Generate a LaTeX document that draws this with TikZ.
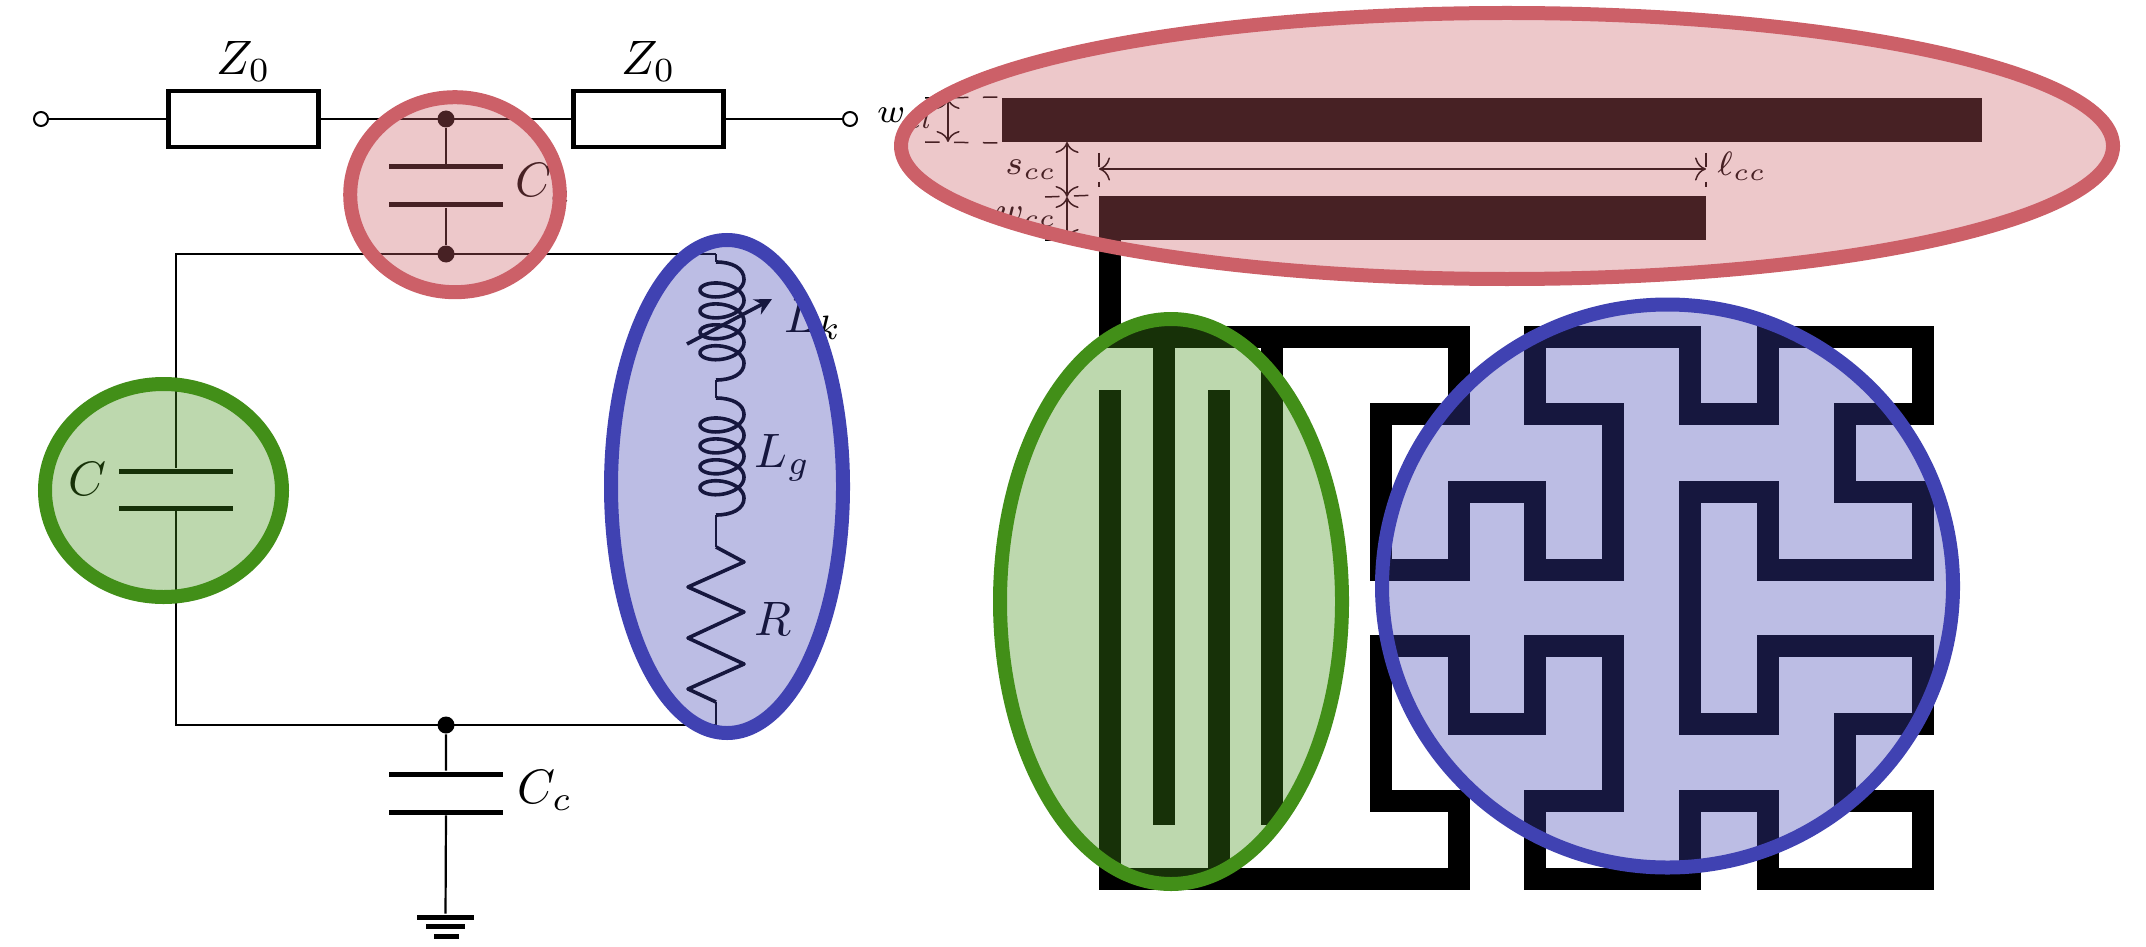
\documentclass[tikz,border=0pt]{standalone}
\usetikzlibrary{shapes.geometric,arrows.meta}
\definecolor{mycoupling}{RGB}{204,96,104}
\definecolor{myresonator}{RGB}{66,143,24}
\definecolor{myinductor}{RGB}{64,66,178}
\newcommand{\unitpx}{0.207pt}
\tikzset{
    wire/.style={line width=2.2*\unitpx},
    termin/.style={draw, circle, fill=white, line width=2*\unitpx, minimum size=14*\unitpx, inner sep=0pt},
    joint/.style={circle, fill=black, minimum size=17*\unitpx, inner sep=0pt},
    load/.style={draw, rectangle, line width=4.5*\unitpx, minimum width=150*\unitpx, minimum height=56*\unitpx, inner sep=0pt},
    plate/.style={rectangle, fill=black, minimum width=114*\unitpx, minimum height=5*\unitpx, inner sep=0pt},
    earth/.style={rectangle, fill=black, minimum height=5*\unitpx, inner sep=0pt},
    coil/.style={line width=3.6*\unitpx, line join=round},
    bar/.style={rectangle, fill=black, minimum height=44*\unitpx, inner sep=0pt},
    trace/.style={line width=22*\unitpx},
    dim/.style={line width=1.5*\unitpx},
    sym/.style={inner sep=0pt},
    tiny sym/.style={sym, font=\scriptsize},
    blob/.style={ellipse, draw=#1, fill=#1, fill opacity=.35, line width=14*\unitpx, inner sep=0pt}
}
\begin{document}
\begin{tikzpicture}[x=\unitpx, y=-\unitpx, declare function={coilx(\t)=722+22*cos(\t); coily(\t,\s)=\s+3.33*rad(\t)+11.75*sin(\t);}]
    \useasboundingbox (0,0) rectangle (2146,946);

    \node[termin] (in) at (41,119) {};
    \node[load, label={[label distance=-10*\unitpx]above:{$Z_0$}}] (zleft) at (243.5,119) {};
    \node[load, label={[label distance=-10*\unitpx]above:{$Z_0$}}] (zright) at (648.5,119) {};
    \node[termin] (out) at (850,119) {};
    \node[joint] (jtop) at (446,119) {};
    \node[joint] (jmid) at (446,254) {};
    \node[joint] (jlow) at (446,725) {};
    \coordinate (cornertl) at (176,254);
    \coordinate (cornertr) at (716,254);
    \coordinate (cornerbl) at (176,725);
    \coordinate (cornerbr) at (716,725);

    \node[plate] (ccplateA) at (446,167) {};
    \node[plate] (ccplateB) at (446,205) {};
    \node[plate] (cplateA) at (176,471) {};
    \node[plate] (cplateB) at (176,508) {};
    \node[plate] (cgplateA) at (446,774) {};
    \node[plate] (cgplateB) at (446,812) {};
    \node[earth, minimum width=57*\unitpx] (gndA) at (445.5,917) {};
    \node[earth, minimum width=39*\unitpx] (gndB) at (445.5,926) {};
    \node[earth, minimum width=25*\unitpx] (gndC) at (446.5,936) {};

    \draw[wire] (in) -- (zleft) (zleft) -- (zright) (zright) -- (out);
    \draw[wire] (jtop) -- (ccplateA) (ccplateB) -- (jmid);
    \draw[wire] (cornertr) -- (cornertl) -- (cplateA) (cplateB) -- (cornerbl) -- (cornerbr);
    \draw[wire] (jlow) -- (cgplateA) (cgplateB) -- (gndA);

    \coordinate (coilAtop) at (716,262);
    \coordinate (coilAend) at (716,380);
    \coordinate (coilBtop) at (716,398);
    \coordinate (coilBend) at (716,515);
    \coordinate (rtop) at (716,547);
    \coordinate (rend) at (716,702);
    \coordinate (tunefrom) at (687,344);
    \coordinate (tuneto) at (772,299);

    \draw[wire] (cornertr) -- (coilAtop) (coilAend) -- (coilBtop) (coilBend) -- (rtop) (rend) -- (cornerbr);
    \draw[coil] (coilAtop) .. controls (732,262) and (744,268) .. (744,279.5)
        -- plot[domain=0:1440, samples=161] ({coilx(\x)},{coily(\x,279.5)})
        .. controls (744,374) and (732,380) .. (coilAend);
    \draw[coil] (coilBtop) .. controls (732,398) and (744,404) .. (744,414.5)
        -- plot[domain=0:1440, samples=161] ({coilx(\x)},{coily(\x,414.5)})
        .. controls (744,509) and (732,515) .. (coilBend);
    \draw[coil] (rtop) -- (744,562) -- (688,587) -- (744,612) -- (688,638) -- (744,664) -- (688,689) -- (rend);
    \draw[coil, -{Stealth[length=17*\unitpx, width=17*\unitpx]}] (tunefrom) -- (tuneto);

    \node[sym, anchor=base west] (labelcc) at (515,197) {$C_c$};
    \node[sym, anchor=base west] (labelcg) at (517,803) {$C_c$};
    \node[sym, anchor=base east] (labelc) at (107,495) {$C$};
    \node[sym, anchor=base west] (labellk) at (784,332) {$L_k$};
    \node[sym, anchor=base west] (labellg) at (754,467) {$L_g$};
    \node[sym, anchor=base west] (labelr) at (754,635) {$R$};

    \node[bar, minimum width=980*\unitpx] (linetop) at (1492,120) {};
    \node[bar, minimum width=607*\unitpx] (linelow) at (1402.5,218) {};

    \draw[trace] (1110,238) -- (1110,337) -- (1458.5,337) -- (1458.5,414) -- (1380.5,414) -- (1380.5,569.5)
        -- (1458.5,569.5) -- (1458.5,491.5) -- (1535,491.5) -- (1535,569.5) -- (1613,569.5) -- (1613,414)
        -- (1535,414) -- (1535,337) -- (1690,337) -- (1690,414) -- (1768,414) -- (1768,337) -- (1922.5,337)
        -- (1922.5,414) -- (1844.5,414) -- (1844.5,491.5) -- (1922.5,491.5) -- (1922.5,569.5) -- (1768,569.5)
        -- (1768,491.5) -- (1690,491.5) -- (1690,723.5) -- (1768,723.5) -- (1768,646) -- (1922.5,646)
        -- (1922.5,723.5) -- (1844.5,723.5) -- (1844.5,801) -- (1922.5,801) -- (1922.5,878.5) -- (1768,878.5)
        -- (1768,801) -- (1690,801) -- (1690,878.5) -- (1535,878.5) -- (1535,801) -- (1613,801) -- (1613,646)
        -- (1535,646) -- (1535,723.5) -- (1458.5,723.5) -- (1458.5,646) -- (1380.5,646) -- (1380.5,801)
        -- (1458.5,801) -- (1458.5,878.5) -- (1110,878.5) -- (1110,390);
    \draw[trace] (1164,337) -- (1164,825) (1272,337) -- (1272,825) (1218.5,878.5) -- (1218.5,390);

    \coordinate (wlA) at (925,98);
    \coordinate (wlB) at (925,142);
    \coordinate (wlAarrow) at (948,98);
    \coordinate (wlBarrow) at (948,142);
    \coordinate (sccA) at (1067,142);
    \coordinate (sccB) at (1067,197);
    \coordinate (wccB) at (1067,240);
    \coordinate (wccdashA) at (1045,197);
    \coordinate (wccdashB) at (1045,240);
    \coordinate (lccA) at (1099,169);
    \coordinate (lccB) at (1706,169);
    \coordinate (lccAtop) at (1099,153);
    \coordinate (lccAlow) at (1099,187);
    \coordinate (lccBtop) at (1706,153);
    \coordinate (lccBlow) at (1706,187);

    \draw[dim, dashed] (wlA) -- (linetop.north west) (wlB) -- (linetop.south west);
    \draw[dim, dashed] (wccdashA) -- (linelow.north west) (wccdashB) -- (linelow.south west);
    \draw[dim, dashed] (lccAtop) -- (lccAlow) (lccBtop) -- (lccBlow);
    \draw[dim, <->] (wlAarrow) -- (wlBarrow);
    \draw[dim, <->] (sccA) -- (sccB);
    \draw[dim, <->] (sccB) -- (wccB);
    \draw[dim, <->] (lccA) -- (lccB);

    \node[tiny sym, anchor=base west] (labelwl) at (876,123) {$w_{cl}$};
    \node[tiny sym, anchor=base east] (labelscc) at (1058,175) {$s_{cc}$};
    \node[tiny sym, anchor=base east] (labelwcc) at (1058,222) {$w_{cc}$};
    \node[tiny sym, anchor=base west] (labellcc) at (1716,176) {$\ell_{cc}$};

    \node[blob=mycoupling, minimum width=209.6*\unitpx, minimum height=195*\unitpx] (bloba) at (455,194.7) {};
    \node[blob=myresonator, minimum width=237*\unitpx, minimum height=213*\unitpx] (blobb) at (163.5,490.5) {};
    \node[blob=myinductor, minimum width=232*\unitpx, minimum height=493*\unitpx] (blobc) at (727,486.5) {};
    \node[blob=mycoupling, minimum width=1212*\unitpx, minimum height=266*\unitpx] (blobd) at (1507,146) {};
    \node[blob=myresonator, minimum width=342*\unitpx, minimum height=565*\unitpx] (blobe) at (1171,601.5) {};
    \node[blob=myinductor, minimum width=571*\unitpx, minimum height=563*\unitpx] (blobf) at (1667.5,586) {};
\end{tikzpicture}
\end{document}
